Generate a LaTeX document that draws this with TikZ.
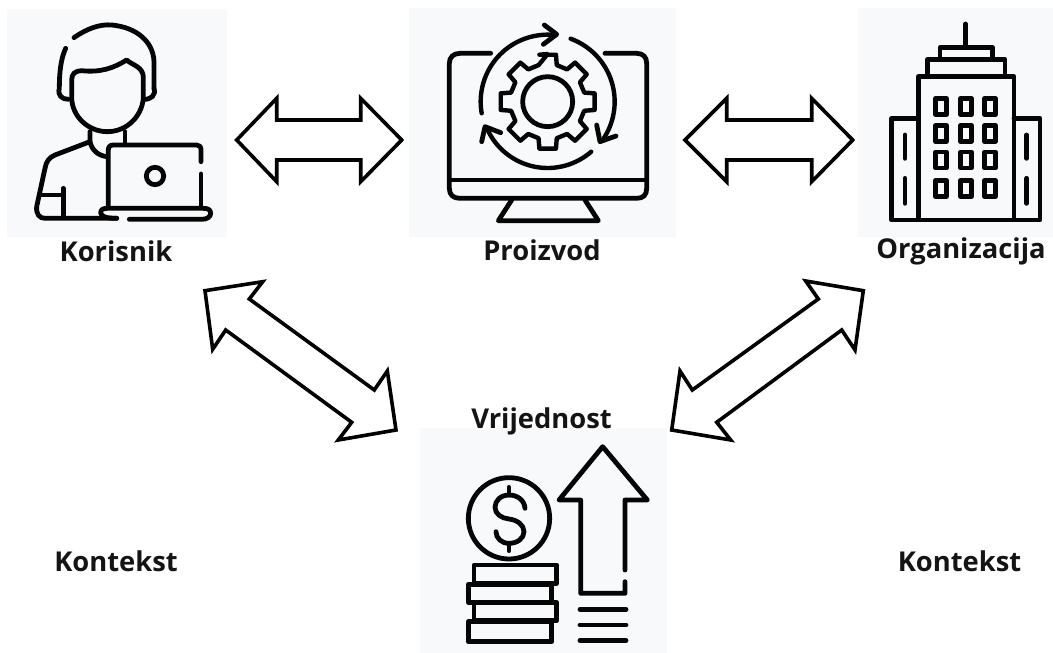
\documentclass[tikz,border=0pt]{standalone}
\usepackage{fontspec}
\setmainfont{Open Sans}
\definecolor{panel}{HTML}{F8F9FB}
\definecolor{ink}{HTML}{050505}
\tikzset{
  panelbox/.style={fill=panel,draw=none},
  icon/.style={draw=ink,line width=3.6pt,line cap=round,line join=round,fill=none},
  thinicon/.style={icon,line width=3.3pt},
  blockarrow/.style={draw=black,line width=2.7pt,fill=white,line join=miter,miter limit=8},
  lab/.style={font=\fontsize{20.5}{24}\selectfont\bfseries,text=black!92,inner sep=0pt,anchor=center}
}
\begin{document}
\begin{tikzpicture}[x=0.75pt,y=-0.75pt]
\useasboundingbox (0,0) rectangle (1053,653);
\fill[white] (0,0) rectangle (1053,653);
% panels
\fill[panelbox] (7,9) rectangle (227,237);
\fill[panelbox] (409,8) rectangle (676,237);
\fill[panelbox] (858,8) rectangle (1053,237);
\fill[panelbox] (420,428) rectangle (667,653);
% block arrows
\draw[blockarrow] (236.7,140) -- (276.7,98.3) -- (276.7,120) -- (360.7,120) -- (360.7,98.3) -- (401.7,140) -- (360.7,181.7) -- (360.7,160) -- (276.7,160) -- (276.7,181.7) -- cycle;
\draw[blockarrow] (685,140) -- (726.7,98.3) -- (726.7,120) -- (811.7,120) -- (811.7,98.3) -- (852.7,140) -- (811.7,181.7) -- (811.7,160) -- (726.7,160) -- (726.7,181.7) -- cycle;
\draw[blockarrow] (205,290.7) -- (262.7,281.7) -- (249.3,299) -- (374.3,390) -- (387.3,371) -- (396,430) -- (338.3,440) -- (351.7,422.3) -- (225.7,330) -- (212.7,349.3) -- cycle;
\draw[blockarrow] (863.3,290.7) -- (855,350) -- (841.7,330) -- (716.7,422.3) -- (730.7,440) -- (671.7,430) -- (680,371) -- (692.3,390) -- (818.3,299) -- (805.7,281) -- cycle;
% user icon
\begin{scope}[x=0.25pt,y=-0.25pt]
\draw[icon] (222,113) .. controls (262,85) and (300,72) .. (335,75) .. controls (410,82) and (460,125) .. (462,185) -- (462,265);
\draw[icon] (197,145) .. controls (183,175) and (178,215) .. (178,265) .. controls (172,285) and (185,298) .. (205,298);
\draw[icon] (462,265) .. controls (468,285) and (455,298) .. (432,298);
\draw[icon] (215,240) .. controls (215,222) and (225,212) .. (245,212) .. controls (300,218) and (340,205) .. (380,180) .. controls (395,195) and (432,200) .. (430,235) -- (430,295) .. controls (425,350) and (380,395) .. (322,395) .. controls (265,395) and (217,350) .. (215,295) -- cycle;
\draw[icon] (270,395) -- (270,425) .. controls (275,450) and (295,468) .. (322,470);
\draw[icon] (375,395) -- (375,428);
\draw[icon] (270,425) -- (165,465) .. controls (148,472) and (138,485) .. (135,505) -- (110,620) .. controls (108,642) and (118,655) .. (135,655) -- (350,655);
\draw[icon] (190,565) -- (190,650);
\draw[icon] (118,585) -- (190,585);
\draw[icon] (325,620) -- (325,450) .. controls (325,440) and (330,435) .. (340,435) -- (590,435) .. controls (598,435) and (603,440) .. (603,450) -- (603,485);
\draw[icon] (603,522) -- (603,622);
\draw[icon] (350,655) .. controls (320,655) and (302,650) .. (302,638) .. controls (302,628) and (310,625) .. (322,625) -- (610,625) .. controls (625,625) and (632,630) .. (632,640) .. controls (632,650) and (622,658) .. (605,658) -- (388,658);
\draw[icon] (465,528) circle[radius=26];
\end{scope}
% product icon
\begin{scope}[shift={(400,0)},x=0.25pt,y=-0.25pt]
\draw[icon] (272,160) -- (180,160) .. controls (160,160) and (148,172) .. (148,190) -- (148,565) .. controls (148,585) and (160,595) .. (180,595) -- (710,595) .. controls (730,595) and (740,585) .. (740,565) -- (740,190) .. controls (740,172) and (730,160) .. (710,160) -- (615,160);
\draw[icon] (148,540) -- (740,540);
\draw[icon] (335,600) -- (295,662) -- (595,662) -- (555,600);
\draw[icon] (443,305) circle[radius=75];
\draw[thinicon] plot[domain=170:277,samples=40,smooth] ({443+201*cos(\x)},{305+201*sin(\x)});
\draw[icon] (433,75) -- (470,103) -- (430,133);
\draw[thinicon] plot[domain=290:393,samples=40,smooth] ({443+201*cos(\x)},{305+201*sin(\x)});
\draw[icon] (590,375) -- (600,425) -- (648,408);
\draw[thinicon] plot[domain=49:157,samples=40,smooth] ({443+199*cos(\x)},{305+199*sin(\x)});
\draw[icon] (245,425) -- (255,380) -- (302,398);
\draw[thinicon] (270:143)++(443,305)
  \foreach \a in {270,315,...,585}{
    -- ({443+143*cos(\a-10)},{305+143*sin(\a-10)})
    -- ({443+143*cos(\a+10)},{305+143*sin(\a+10)})
    -- ({443+113*cos(\a+14)},{305+113*sin(\a+14)})
    -- ({443+113*cos(\a+31)},{305+113*sin(\a+31)})
  } -- cycle;
\end{scope}
% organisation icon
\begin{scope}[shift={(850,0)},x=0.25pt,y=-0.25pt]
\draw[icon] (347,72) -- (347,140);
\draw[icon] (270,172) -- (270,143) -- (428,143) -- (428,172);
\draw[icon] (233,225) -- (233,178) -- (465,178) -- (465,225);
\draw[icon] (205,655) -- (205,230) -- (492,230) -- (492,655);
\draw[icon] (205,355) -- (125,355) -- (125,660) -- (570,660) -- (570,355) -- (492,355);
\foreach \cx in {273,348,420}
  \foreach \cy in {320,400,480,565}
    \draw[icon] (\cx-16,\cy-24) rectangle (\cx+16,\cy+24);
\foreach \sx in {165,530}{
  \draw[icon] (\sx,405) -- (\sx,475);
  \draw[icon] (\sx,535) -- (\sx,610);
}
\end{scope}
% value icon
\begin{scope}[shift={(410,400)},x=0.25pt,y=-0.25pt]
\draw[icon] (297,355) circle[radius=122];
\draw[icon] (297,262) -- (297,285);
\draw[icon] (297,430) -- (297,452);
\draw[icon] (345,325) .. controls (343,300) and (322,285) .. (297,285) .. controls (272,285) and (255,302) .. (255,322) .. controls (255,342) and (275,355) .. (297,357) .. controls (322,360) and (342,375) .. (342,395) .. controls (342,415) and (322,430) .. (297,430) .. controls (275,430) and (258,415) .. (258,395);
\draw[icon] (192,495) rectangle (440,550);
\draw[icon] (175,553) rectangle (425,607);
\draw[icon] (192,607) rectangle (440,662);
\draw[icon] (175,665) rectangle (425,725);
\draw[icon] (645,510) -- (645,300) -- (712,300) -- (578,140) -- (447,300) -- (512,300) -- (512,580) -- (645,580) -- (645,545);
\draw[icon] (510,628) -- (648,628);
\draw[icon] (510,675) -- (648,675);
\draw[icon] (510,722) -- (648,722);
\end{scope}
% labels
\node[lab] (korisnik) at (116,251) {Korisnik};
\node[lab] (proizvod) at (542,250) {Proizvod};
\node[lab] (organizacija) at (961,251) {Organizacija};
\node[lab] (vrijednost) at (541.5,421) {Vrijednost};
\node[lab] (kontekstl) at (116,561) {Kontekst};
\node[lab] (kontekstr) at (959.5,561) {Kontekst};
\end{tikzpicture}
\end{document}
